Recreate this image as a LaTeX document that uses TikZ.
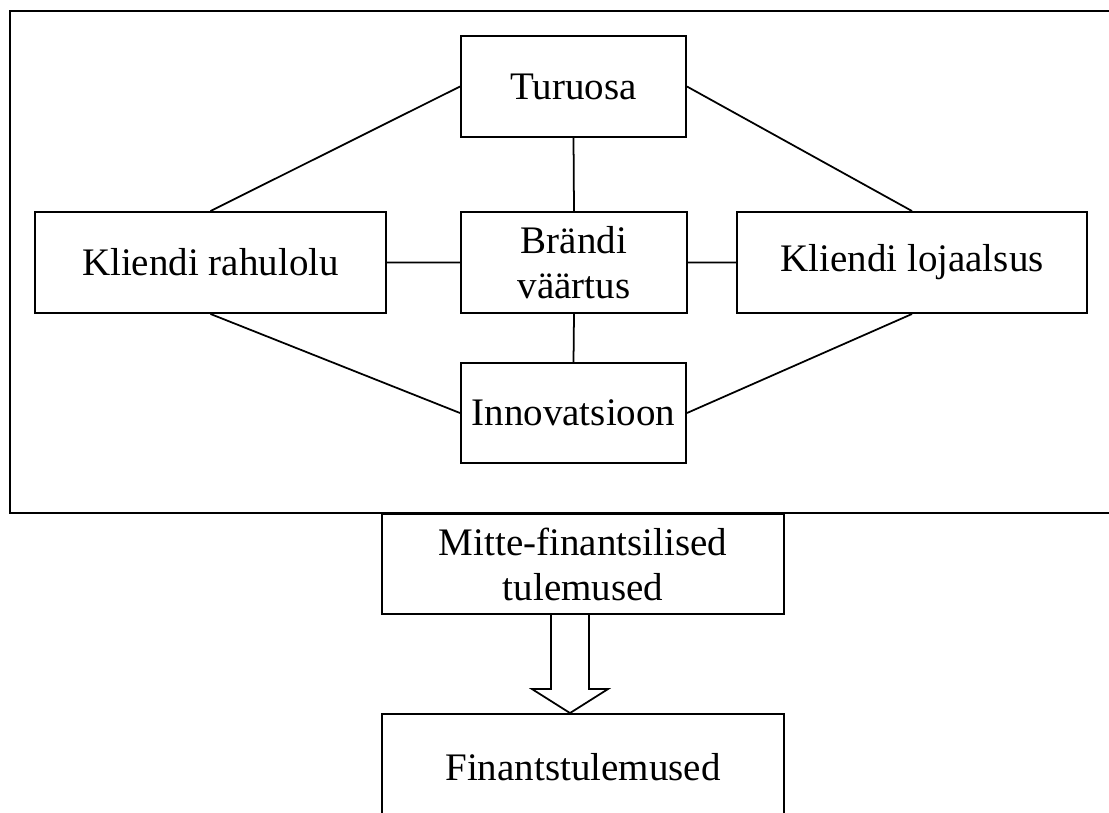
\documentclass[tikz,border=0pt]{standalone}
\usepackage{fontspec}
\setmainfont{Liberation Serif}
\usetikzlibrary{calc}

\begin{document}
\begin{tikzpicture}[
    box/.style={draw,rectangle,line width=1.1pt,minimum height=2.02cm,inner sep=0pt,align=center,font=\fontsize{22.2}{25.6}\selectfont},
    link/.style={line width=1pt}]
  \useasboundingbox (0,0) rectangle (22.18,-16.24);
  \clip (0,0) rectangle (22.18,-16.24);
  \draw[line width=1.5pt] (0.2,-0.22) rectangle (22.6,-10.26);
  \draw (11.47,-1.73) node [box,minimum width=4.5cm] (tur) {Turuosa};
  \draw (11.48,-5.25) node [box,minimum width=4.52cm] (brand) {Brändi\\väärtus};
  \draw (4.21,-5.25) node [box,minimum width=7.02cm] (rahul) {Kliendi rahulolu};
  \draw (18.24,-5.25) node [box,minimum width=7cm] (lojaal) {Kliendi lojaalsus};
  \draw (11.47,-8.26) node [box,minimum width=4.5cm,minimum height=2cm] (innov) {Innovatsioon};
  \draw (11.66,-11.28) node [box,minimum width=8.04cm,minimum height=2cm] (mitte) {Mitte-finantsilised\\tulemused};
  \draw (11.66,-15.34) node [box,minimum width=8.04cm,minimum height=2.12cm] (fin) {Finantstulemused};
  \draw[link]
    (tur.west) -- (rahul.north)
    (tur.east) -- (lojaal.north)
    (rahul.south) -- (innov.west)
    (lojaal.south) -- (innov.east)
    (tur.south) -- (brand.north)
    (brand.south) -- (innov.north)
    (rahul.east) -- (brand.west)
    (brand.east) -- (lojaal.west);
  \draw[link,line join=miter]
    ($(mitte.south)+(-0.64,0)$) -- ($(fin.north)+(-0.64,0.48)$)
    -- ($(fin.north)+(-1.02,0.48)$) -- ($(fin.north)+(-0.26,0)$)
    -- ($(fin.north)+(0.5,0.48)$) -- ($(fin.north)+(0.12,0.48)$)
    -- ($(mitte.south)+(0.12,0)$);
\end{tikzpicture}
\end{document}
